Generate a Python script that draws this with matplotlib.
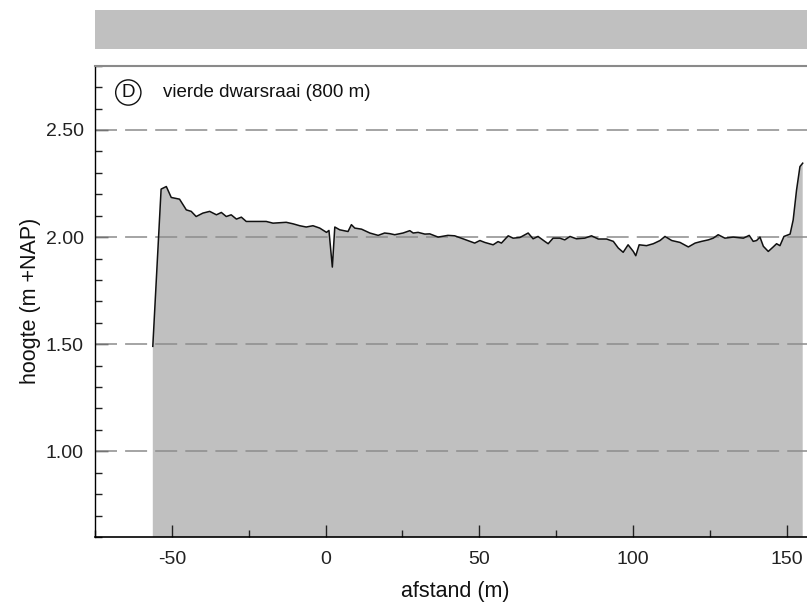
import numpy as np
import matplotlib
matplotlib.use('Agg')
import matplotlib.pyplot as plt
from matplotlib.patches import Rectangle
from matplotlib.ticker import MultipleLocator, FormatStrFormatter

plt.rcParams['font.family'] = ['Liberation Sans', 'DejaVu Sans']
plt.rcParams['axes.unicode_minus'] = False

# dwarsprofiel: afstand (m) en hoogte (m +NAP)
afstand = [-56.2, -53.5, -51.8, -50.2, -47.5, -45.3, -43.7, -42.1, -39.9, -37.7,
           -35.5, -33.9, -32.3, -30.7, -29.0, -27.4, -25.8, -23.6, -19.3, -17.1,
           -12.8, -10.6, -8.4, -6.3, -4.1, -1.9, 0.3, 1.1, 2.2, 3.0,
           4.6, 7.3, 8.4, 9.5, 11.7, 14.4, 17.1, 19.2, 20.9, 22.5,
           25.2, 27.4, 28.5, 30.1, 32.3, 33.9, 36.6, 39.8, 42.0, 44.7,
           48.5, 50.2, 51.8, 54.5, 56.1, 57.2, 59.4, 61.0, 63.2, 65.9,
           67.5, 69.1, 71.3, 72.4, 74.0, 76.2, 77.8, 79.5, 81.6, 84.3,
           86.5, 88.7, 91.4, 93.6, 95.2, 96.8, 98.4, 100.1, 100.9, 102.0,
           104.4, 106.6, 108.8, 110.4, 112.6, 115.3, 118.0, 120.2, 122.3, 124.5,
           126.1, 127.7, 129.9, 132.6, 135.9, 137.8, 139.1, 140.2, 141.3, 142.4,
           144.0, 145.6, 146.7, 147.8, 149.1, 151.1, 152.1, 153.2, 154.3, 155.2]
hoogte = [1.49, 2.224, 2.236, 2.185, 2.177, 2.127, 2.120, 2.096, 2.112, 2.120,
          2.104, 2.115, 2.096, 2.104, 2.084, 2.093, 2.073, 2.073, 2.073, 2.065,
          2.069, 2.062, 2.053, 2.047, 2.053, 2.042, 2.022, 2.031, 1.860, 2.047,
          2.034, 2.026, 2.058, 2.042, 2.037, 2.019, 2.008, 2.019, 2.016, 2.011,
          2.019, 2.030, 2.019, 2.022, 2.014, 2.015, 2.000, 2.008, 2.006, 1.992,
          1.972, 1.984, 1.975, 1.964, 1.979, 1.972, 2.006, 1.995, 1.998, 2.019,
          1.992, 2.003, 1.980, 1.969, 1.995, 1.995, 1.987, 2.003, 1.992, 1.995,
          2.006, 1.991, 1.991, 1.980, 1.949, 1.929, 1.964, 1.933, 1.913, 1.964,
          1.960, 1.969, 1.984, 2.003, 1.984, 1.975, 1.954, 1.972, 1.980, 1.987,
          1.995, 2.011, 1.995, 2.000, 1.995, 2.008, 1.980, 1.984, 2.000, 1.957,
          1.933, 1.954, 1.969, 1.960, 2.003, 2.014, 2.080, 2.220, 2.329, 2.345]

titel = "vierde dwarsraai (800 m)"
letter = "D"

grijs = '#c0c0c0'

fig = plt.figure(figsize=(8.07, 6.10), dpi=100)

# grijze balk boven de grafiek
fig.patches.append(Rectangle((95 / 807, 1 - 49.3 / 610), 1.0, 39.3 / 610,
                             transform=fig.transFigure, facecolor=grijs,
                             edgecolor='none'))

ax = fig.add_axes([95 / 807, 1 - 537 / 610, 720 / 807, 471.3 / 610])

x = np.array(afstand)
y = np.array(hoogte)
ax.fill_between(x, y, 0.0, facecolor=grijs, edgecolor='none', zorder=1)
ax.plot(x, y, color='#111111', lw=1.1, zorder=3)

ax.set_xlim(-75, 159.2)
ax.set_ylim(0.6, 2.8)

ax.xaxis.set_major_locator(MultipleLocator(50))
ax.xaxis.set_minor_locator(MultipleLocator(25))
ax.yaxis.set_major_locator(MultipleLocator(0.5))
ax.yaxis.set_minor_locator(MultipleLocator(0.1))
ax.yaxis.set_major_formatter(FormatStrFormatter('%.2f'))

ax.tick_params(which='both', direction='in', top=False, right=False, color='#222222')
ax.tick_params(which='major', length=9, width=1.0, labelsize=14, colors='#222222')
ax.tick_params(axis='x', which='major', pad=10)
ax.tick_params(axis='y', which='major', pad=8)
ax.tick_params(which='minor', length=5, width=1.0)

for yv in ax.get_yticks():
    if 0.6 < yv < 2.8:
        ax.axhline(yv, color='#8c8c8c', lw=1.1, dashes=(14.4, 5.3), zorder=2)

ax.spines['right'].set_visible(False)
ax.spines['top'].set_color('#8a8a8a')
ax.spines['top'].set_linewidth(1.5)
ax.spines['left'].set_linewidth(1.0)
ax.spines['bottom'].set_linewidth(1.2)

ax.set_xlabel("afstand (m)", fontsize=15.5, color='#111111', va='center')
ax.xaxis.set_label_coords(0.5, (537 - 592) / 471.3)
ax.set_ylabel("hoogte (m +NAP)", fontsize=15.5, color='#111111', va='center')
ax.yaxis.set_label_coords((30 - 95) / 720, 0.5)

ax.text((128.3 - 95) / 720, (537 - 92.5) / 471.3, letter, transform=ax.transAxes,
        fontsize=13.5, ha='center', va='center', color='#111111',
        bbox=dict(boxstyle='circle,pad=0.22', facecolor='white',
                  edgecolor='#111111', lw=1.0))
ax.text((163 - 95) / 720, (537 - 92.5) / 471.3, titel, transform=ax.transAxes,
        fontsize=13.5, ha='left', va='center', color='#111111')

fig.savefig('out.png', dpi=100)
